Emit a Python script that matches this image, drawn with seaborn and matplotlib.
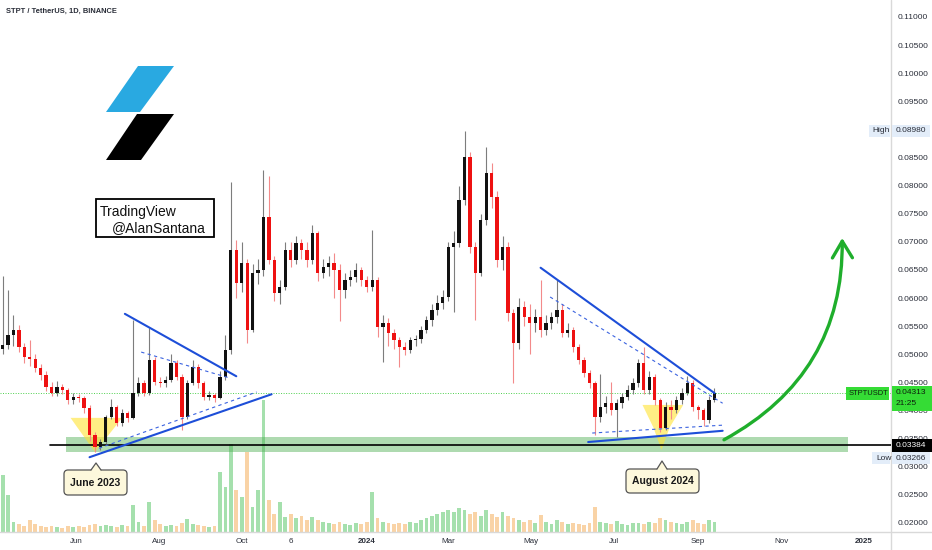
import numpy as np
import pandas as pd
import matplotlib
matplotlib.use("Agg")
import matplotlib.pyplot as plt
import matplotlib.dates as mdates
from matplotlib.patches import Polygon, Rectangle, FancyBboxPatch
from matplotlib.lines import Line2D
from matplotlib.transforms import IdentityTransform
import seaborn as sns

# ---------------- data (4-day candles, STPT/USDT) ----------------
first_candle = "2023-04-08"
n_candles = 132

opens = [
    0.0510, 0.0517, 0.0534, 0.0543, 0.0513, 0.0495, 0.0492, 0.0476, 0.0463, 0.0442,
    0.0431, 0.0442, 0.0437, 0.0419, 0.0424, 0.0422, 0.0404, 0.0356, 0.0335, 0.0344,
    0.0388, 0.0406, 0.0378, 0.0396, 0.0387, 0.0431, 0.0449, 0.0431, 0.0490, 0.0451,
    0.0449, 0.0454, 0.0485, 0.0460, 0.0388, 0.0449, 0.0477, 0.0449, 0.0424, 0.0428,
    0.0422, 0.0460, 0.0508, 0.0686, 0.0627, 0.0662, 0.0543, 0.0645, 0.0650, 0.0744,
    0.0668, 0.0609, 0.0620, 0.0686, 0.0668, 0.0698, 0.0686, 0.0668, 0.0716, 0.0645,
    0.0655, 0.0662, 0.0650, 0.0614, 0.0632, 0.0638, 0.0650, 0.0632, 0.0620, 0.0632,
    0.0549, 0.0556, 0.0538, 0.0525, 0.0513, 0.0508, 0.0525, 0.0528, 0.0543, 0.0561,
    0.0579, 0.0591, 0.0602, 0.0691, 0.0698, 0.0774, 0.0851, 0.0691, 0.0645, 0.0739,
    0.0823, 0.0780, 0.0668, 0.0691, 0.0573, 0.0520, 0.0584, 0.0566, 0.0556, 0.0566,
    0.0543, 0.0556, 0.0566, 0.0579, 0.0538, 0.0543, 0.0513, 0.0490, 0.0467, 0.0449,
    0.0388, 0.0406, 0.0413, 0.0401, 0.0413, 0.0424, 0.0437, 0.0449, 0.0485, 0.0437,
    0.0460, 0.0419, 0.0369, 0.0406, 0.0401, 0.0419, 0.0431, 0.0449, 0.0406, 0.0401,
    0.0383, 0.0419]

closes = [
    0.0517, 0.0534, 0.0543, 0.0513, 0.0495, 0.0492, 0.0476, 0.0463, 0.0442, 0.0431,
    0.0442, 0.0437, 0.0419, 0.0424, 0.0422, 0.0404, 0.0356, 0.0335, 0.0344, 0.0388,
    0.0406, 0.0378, 0.0396, 0.0387, 0.0431, 0.0449, 0.0431, 0.0490, 0.0451, 0.0449,
    0.0454, 0.0485, 0.0460, 0.0388, 0.0449, 0.0477, 0.0449, 0.0424, 0.0428, 0.0422,
    0.0460, 0.0508, 0.0686, 0.0627, 0.0662, 0.0543, 0.0645, 0.0650, 0.0744, 0.0668,
    0.0609, 0.0620, 0.0686, 0.0668, 0.0698, 0.0686, 0.0668, 0.0716, 0.0645, 0.0655,
    0.0662, 0.0650, 0.0614, 0.0632, 0.0638, 0.0650, 0.0632, 0.0620, 0.0632, 0.0549,
    0.0556, 0.0538, 0.0525, 0.0513, 0.0508, 0.0525, 0.0528, 0.0543, 0.0561, 0.0579,
    0.0591, 0.0602, 0.0691, 0.0698, 0.0774, 0.0851, 0.0691, 0.0645, 0.0739, 0.0823,
    0.0780, 0.0668, 0.0691, 0.0573, 0.0520, 0.0584, 0.0566, 0.0556, 0.0566, 0.0543,
    0.0556, 0.0566, 0.0579, 0.0538, 0.0543, 0.0513, 0.0490, 0.0467, 0.0449, 0.0388,
    0.0406, 0.0413, 0.0401, 0.0413, 0.0424, 0.0437, 0.0449, 0.0485, 0.0437, 0.0460,
    0.0419, 0.0369, 0.0406, 0.0401, 0.0419, 0.0431, 0.0449, 0.0406, 0.0401, 0.0383,
    0.0419, 0.04313]

highs = [
    0.0640, 0.0614, 0.0570, 0.0552, 0.0520, 0.0525, 0.0500, 0.0482, 0.0470, 0.0450,
    0.0452, 0.0447, 0.0440, 0.0432, 0.0430, 0.0425, 0.0410, 0.0362, 0.0350, 0.0392,
    0.0420, 0.0410, 0.0403, 0.0400, 0.0561, 0.0460, 0.0455, 0.0547, 0.0495, 0.0460,
    0.0462, 0.0500, 0.0490, 0.0465, 0.0455, 0.0490, 0.0482, 0.0452, 0.0435, 0.0432,
    0.0470, 0.0535, 0.0807, 0.0703, 0.0700, 0.0670, 0.0660, 0.0670, 0.0828, 0.0818,
    0.0675, 0.0632, 0.0700, 0.0700, 0.0710, 0.0705, 0.0700, 0.0730, 0.0720, 0.0670,
    0.0675, 0.0680, 0.0660, 0.0645, 0.0650, 0.0662, 0.0655, 0.0640, 0.0721, 0.0638,
    0.0570, 0.0565, 0.0545, 0.0530, 0.0522, 0.0530, 0.0535, 0.0550, 0.0568, 0.0590,
    0.0605, 0.0615, 0.0700, 0.0720, 0.0800, 0.0898, 0.0860, 0.0700, 0.0750, 0.0869,
    0.0840, 0.0790, 0.0710, 0.0700, 0.0580, 0.0600, 0.0595, 0.0590, 0.0580, 0.0632,
    0.0570, 0.0575, 0.0632, 0.0590, 0.0555, 0.0548, 0.0518, 0.0495, 0.0472, 0.0452,
    0.0465, 0.0425, 0.0451, 0.0420, 0.0432, 0.0445, 0.0458, 0.0492, 0.0513, 0.0470,
    0.0465, 0.0422, 0.0415, 0.0418, 0.0425, 0.0440, 0.0462, 0.0455, 0.0410, 0.0405,
    0.0425, 0.0440]

lows = [
    0.0500, 0.0510, 0.0515, 0.0505, 0.0485, 0.0480, 0.0468, 0.0455, 0.0435, 0.0425,
    0.0425, 0.0430, 0.0412, 0.0412, 0.0415, 0.0395, 0.0345, 0.0327, 0.0330, 0.0340,
    0.0385, 0.0372, 0.0373, 0.0380, 0.0385, 0.0425, 0.0425, 0.0428, 0.0445, 0.0442,
    0.0442, 0.0450, 0.0455, 0.0365, 0.0385, 0.0445, 0.0440, 0.0418, 0.0418, 0.0415,
    0.0420, 0.0455, 0.0500, 0.0600, 0.0610, 0.0520, 0.0540, 0.0625, 0.0640, 0.0660,
    0.0595, 0.0590, 0.0615, 0.0655, 0.0660, 0.0670, 0.0655, 0.0660, 0.0630, 0.0635,
    0.0640, 0.0600, 0.0560, 0.0600, 0.0622, 0.0628, 0.0622, 0.0610, 0.0612, 0.0530,
    0.0487, 0.0515, 0.0510, 0.0478, 0.0498, 0.0503, 0.0515, 0.0520, 0.0538, 0.0550,
    0.0570, 0.0580, 0.0595, 0.0575, 0.0690, 0.0765, 0.0680, 0.0561, 0.0640, 0.0730,
    0.0760, 0.0655, 0.0650, 0.0560, 0.0449, 0.0510, 0.0550, 0.0500, 0.0540, 0.0530,
    0.0535, 0.0545, 0.0555, 0.0530, 0.0530, 0.0505, 0.0482, 0.0460, 0.0440, 0.0356,
    0.0380, 0.0395, 0.0392, 0.0353, 0.0405, 0.0418, 0.0430, 0.0442, 0.0430, 0.0430,
    0.0410, 0.0362, 0.0365, 0.0385, 0.0395, 0.0412, 0.0428, 0.0400, 0.0385, 0.0372,
    0.0378, 0.0415]

volumes = [  # relative volume per candle
    57, 37, 10, 8, 6, 12, 8, 6, 5, 6,
    5, 4, 6, 5, 6, 5, 7, 8, 6, 7,
    6, 5, 7, 6, 27, 10, 6, 30, 12, 8,
    6, 7, 6, 9, 13, 8, 7, 6, 5, 6,
    60, 45, 88, 42, 35, 80, 25, 42, 132, 32,
    18, 30, 15, 18, 14, 16, 12, 15, 12, 10,
    9, 8, 10, 8, 7, 9, 8, 10, 40, 14,
    10, 9, 8, 9, 8, 10, 9, 12, 14, 16,
    18, 20, 22, 20, 24, 22, 18, 20, 16, 22,
    18, 15, 20, 16, 14, 12, 10, 12, 9, 17,
    10, 8, 12, 10, 8, 9, 8, 7, 9, 25,
    10, 9, 8, 11, 8, 7, 9, 9, 8, 10,
    9, 14, 12, 10, 9, 8, 10, 12, 9, 8,
    12, 10]

tick_dates = ["2023-06-01", "2023-08-01", "2023-10-01", "2023-11-06", "2024-01-01",
              "2024-03-01", "2024-05-01", "2024-07-01", "2024-09-01", "2024-11-01",
              "2025-01-01"]
tick_labels = ["Jun", "Aug", "Oct", "6", "2024", "Mar", "May", "Jul", "Sep", "Nov", "2025"]
price_ticks = [0.020, 0.025, 0.030, 0.035, 0.040, 0.045, 0.050, 0.055, 0.060, 0.065,
               0.070, 0.075, 0.080, 0.085, 0.095, 0.100, 0.105, 0.110]

last_price = 0.04313
support_price = 0.03384
high_price = 0.08980
low_price = 0.03266
support_zone = (0.0327, 0.0353)
support_zone_dates = ("2023-05-25", "2024-12-20")
support_line_start = "2023-05-13"

solid_lines = [(("2023-07-07", 0.0572), ("2023-09-27", 0.0461)),
               (("2023-06-11", 0.0317), ("2023-10-23", 0.0429)),
               (("2024-05-08", 0.0654), ("2024-09-13", 0.0431)),
               (("2024-06-12", 0.0344), ("2024-09-19", 0.0364))]
dashed_lines = [(("2023-07-19", 0.0504), ("2023-09-22", 0.0458)),
                (("2023-06-18", 0.0333), ("2023-10-12", 0.0433)),
                (("2024-05-15", 0.0602), ("2024-09-19", 0.0413)),
                (("2024-06-15", 0.0360), ("2024-09-19", 0.0374))]
yellow_zones = [[("2023-05-28", 0.0387), ("2023-07-05", 0.0387), ("2023-06-15", 0.0326)],
                [("2024-07-22", 0.0410), ("2024-08-21", 0.0410), ("2024-08-11", 0.0370),
                 ("2024-08-05", 0.0330), ("2024-07-30", 0.0370)]]
arrow_from = ("2024-09-20", 0.0348)
arrow_to = ("2024-12-16", 0.0707)

# ---------------- figure ----------------
sns.set_theme(style="white")
plt.rcParams["font.family"] = ["Liberation Sans", "DejaVu Sans"]

W, H = 932, 550
fig = plt.figure(figsize=(W / 100, H / 100), dpi=100)
fig.patch.set_facecolor("white")
rect = [0, 18 / H, 891 / W, 532 / H]
axv = fig.add_axes(rect)
ax = fig.add_axes(rect, sharex=axv)
ax.set_zorder(2)
ax.patch.set_visible(False)

D = lambda s: mdates.date2num(pd.Timestamp(s))
dates = pd.date_range(first_candle, periods=n_candles, freq="4D")
x = mdates.date2num(dates)
o = np.array(opens); c = np.array(closes); hi = np.array(highs); lo = np.array(lows)
vol = np.array(volumes, dtype=float)
up = c >= o

xlim = (D("2023-04-06 02:00"), D("2025-01-20 22:00"))
ylim = (0.018399, 0.11302)

# volume
vdf = pd.DataFrame({"t": x, "vol": vol, "dir": np.where(up, "up", "down")})
sns.histplot(data=vdf, x="t", weights="vol", hue="dir", binwidth=4,
             binrange=(x[0] - 2, x[-1] + 2),
             palette={"up": "#4cc35c", "down": "#f5a94f"}, alpha=0.5,
             shrink=0.7, linewidth=0, legend=False, ax=axv)
axv.set_ylim(0, 532)
axv.axis("off")

# support zone + line
ax.fill_between([D(support_zone_dates[0]), D(support_zone_dates[1])],
                support_zone[0], support_zone[1], color="#4caf50", alpha=0.45,
                linewidth=0, zorder=1)
ax.plot([D(support_line_start), xlim[1]], [support_price] * 2, color="black", lw=1.2, zorder=2)
ax.axhline(last_price, color="#4cd04c", lw=0.7, ls=(0, (1, 1.6)), zorder=1)

# yellow highlight zones
for zone in yellow_zones:
    ax.add_patch(Polygon([(D(d), p) for d, p in zone], closed=True,
                         facecolor="#ffe433", alpha=0.6, edgecolor="none", zorder=1.5))

# candles
ax.vlines(x[up], lo[up], hi[up], color="#7d7d7d", lw=0.8, zorder=3)
ax.vlines(x[~up], lo[~up], hi[~up], color="#f38a8a", lw=0.8, zorder=3)
body_b = np.minimum(o, c)
body_h = np.maximum(np.abs(c - o), 0.00015)
ax.bar(x[up], body_h[up], bottom=body_b[up], width=2.4, color="#111111", linewidth=0, zorder=4)
ax.bar(x[~up], body_h[~up], bottom=body_b[~up], width=2.4, color="#ee1111", linewidth=0, zorder=4)

# trend lines
for (d1, p1), (d2, p2) in solid_lines:
    ax.plot([D(d1), D(d2)], [p1, p2], color="#1d4ed8", lw=1.5, zorder=5, solid_capstyle="round")
for (d1, p1), (d2, p2) in dashed_lines:
    ax.plot([D(d1), D(d2)], [p1, p2], color="#3b63e0", lw=0.8, ls=(0, (3, 3)), zorder=5)

# green arrow
ax.annotate("", xy=(D(arrow_to[0]), arrow_to[1]), xytext=(D(arrow_from[0]), arrow_from[1]),
            arrowprops=dict(arrowstyle="->,head_length=1.0,head_width=0.6", color="#1fae2c",
                            lw=2.4, connectionstyle="arc3,rad=0.3", shrinkA=0, shrinkB=0),
            zorder=6, annotation_clip=False)

ax.set_xlim(*xlim)
ax.set_ylim(*ylim)
for s in ax.spines.values():
    s.set_visible(False)
ax.yaxis.tick_right()
ax.set_yticks(price_ticks)
ax.set_yticklabels([f"{t:.5f}" for t in price_ticks])
ax.tick_params(axis="y", length=0, pad=5, labelsize=6.0, labelcolor="#2a2e39")
ax.set_xticks([D(d) for d in tick_dates])
ax.set_xticklabels(tick_labels)
ax.tick_params(axis="x", length=0, pad=4, labelsize=5.8, labelcolor="#2a2e39")
for lab in ax.get_xticklabels():
    if lab.get_text() in ("2024", "2025"):
        lab.set_fontweight("bold")
ax.grid(False)

# ---------------- overlay decorations (display pixels) ----------------
ID = IdentityTransform()
def P(px, py):
    return (px, H - py)

def ypx(price):
    return H - ax.transData.transform((xlim[0], price))[1]

fig.add_artist(Line2D([891, 891], [0, H], transform=ID, color="#d9d9d9", lw=1))
fig.add_artist(Line2D([0, W], [H - 532, H - 532], transform=ID, color="#d9d9d9", lw=1))

def tag(x0, x1, yc, h, fc, texts, tc, fs=6.0, weight="normal"):
    fig.add_artist(Rectangle(P(x0, yc + h / 2), x1 - x0, h, transform=ID, facecolor=fc,
                             edgecolor="none", zorder=10))
    for (tx, ty, s) in texts:
        fig.text(*P(tx, ty), s, transform=ID, ha="left", va="center", fontsize=fs,
                 color=tc, zorder=11, fontweight=weight)

yl = ypx(last_price)
tag(846, 889, yl + 0.5, 13, "#35dc35", [(849, yl + 0.5, "STPTUSDT")], "#0d1f0d", 5.4)
tag(892, 932, yl + 6, 25, "#35dc35", [(896, yl, "0.04313"), (896, yl + 11, "21:25")], "#0d1f0d")
ys = ypx(support_price)
tag(892, 932, ys, 13, "#000000", [(896, ys, "0.03384")], "white")
yh = ypx(high_price)
tag(869, 890, yh, 12, "#e3edf9", [(872, yh, "High")], "#2a2e39")
tag(892, 930, yh, 12, "#e3edf9", [(896, yh, "0.08980")], "#2a2e39")
ylo = ypx(low_price) + 6.5
tag(872, 890, ylo, 12, "#e3edf9", [(876, ylo, "Low")], "#2a2e39")
tag(892, 930, ylo, 12, "#e3edf9", [(896, ylo, "0.03266")], "#2a2e39")

fig.text(*P(6, 11), "STPT / TetherUS, 1D, BINANCE", transform=ID, ha="left", va="center",
         fontsize=5.4, fontweight="bold", color="#2a2e39")

# logo
fig.add_artist(Polygon([P(106, 112), P(140, 112), P(174, 66), P(138, 66)], closed=True,
                       transform=ID, facecolor="#29a9e1", edgecolor="none"))
fig.add_artist(Polygon([P(106, 160), P(141, 160), P(174, 114), P(137, 114)], closed=True,
                       transform=ID, facecolor="#000000", edgecolor="none"))

# watermark box
fig.add_artist(Rectangle(P(96, 237), 118, 38, transform=ID, facecolor="white",
                         edgecolor="black", lw=1.3, zorder=8))
fig.text(*P(100, 212), "TradingView", transform=ID, ha="left", va="center", fontsize=10,
         family="Liberation Sans", color="#111111", zorder=9)
fig.text(*P(112, 228), "@AlanSantana", transform=ID, ha="left", va="center", fontsize=10,
         family="Liberation Sans", color="#111111", zorder=9)

def callout(x0, x1, y0, y1, tipx, tipy, text):
    fig.add_artist(FancyBboxPatch(P(x0, y1), x1 - x0, y1 - y0, transform=ID,
                                  boxstyle="round,pad=0,rounding_size=4",
                                  facecolor="#fdf8dc", edgecolor="#555555", lw=0.9, zorder=8))
    fig.add_artist(Polygon([P(tipx - 5, y0 + 1), P(tipx, tipy), P(tipx + 5, y0 + 1)],
                           closed=True, transform=ID, facecolor="#fdf8dc", edgecolor="none", zorder=9))
    fig.add_artist(Line2D([tipx - 5, tipx, tipx + 5], [H - y0, H - tipy, H - y0], transform=ID,
                          color="#555555", lw=0.9, zorder=9))
    fig.text((x0 + x1) / 2, H - (y0 + y1) / 2, text, transform=ID, ha="center", va="center",
             fontsize=7.5, fontweight="bold", color="#1a1a1a", zorder=10)

callout(64, 127, 470, 495, 96, 463, "June 2023")
callout(626, 699, 469, 493, 662, 461, "August 2024")

fig.savefig("out.png", dpi=100)
